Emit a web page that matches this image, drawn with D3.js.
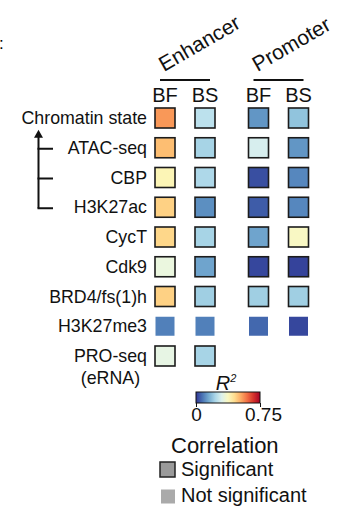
<!DOCTYPE html>
<html><head><meta charset="utf-8">
<script src="https://cdn.jsdelivr.net/npm/d3@7"></script>
<style>
html,body{margin:0;padding:0;background:#fff;}
svg{display:block;font-family:"Liberation Sans",Arial,Helvetica,sans-serif;}
</style></head>
<body><svg id="c" width="345" height="512"></svg>
<script>
// ---- data ----
const rows = ["Chromatin state","ATAC-seq","CBP","H3K27ac","CycT","Cdk9","BRD4/fs(1)h","H3K27me3","PRO-seq"];
const groups = ["Enhancer","Promoter"];
const conditions = ["BF","BS"];
// R^2 values per column (null = not measured)
const enhancerBF = [0.55,0.50,0.39,0.47,0.46,0.33,0.47,0.09,0.32];
const enhancerBS = [0.25,0.22,0.23,0.11,0.22,0.14,0.21,0.09,0.22];
const promoterBF = [0.12,0.29,0.03,0.045,0.14,0.02,0.21,0.06,null];
const promoterBS = [0.19,0.12,0.10,0.10,0.37,0.015,0.21,0.02,null];
// significance per row (H3K27me3 not significant)
const significant = [true,true,true,true,true,true,true,false,true];
const colorTicks = [0,0.75];

const columns = [
  {group:"Enhancer",cond:"BF",vals:enhancerBF},
  {group:"Enhancer",cond:"BS",vals:enhancerBS},
  {group:"Promoter",cond:"BF",vals:promoterBF},
  {group:"Promoter",cond:"BS",vals:promoterBS}
];
const cells = [];
columns.forEach(c=>c.vals.forEach((v,i)=>{ if(v!==null) cells.push({group:c.group,cond:c.cond,row:rows[i],v:v,sig:significant[i]}); }));

const svg = d3.select("#c");
const gx = d3.scalePoint().domain(groups).range([185,278.5]);
const sx = d3.scalePoint().domain(conditions).range([-20,20]);
const y = d3.scalePoint().domain(rows).range([118,356]);
const color = v => d3.interpolateRdYlBu(1 - v/0.75);
const X = d => gx(d.group)+sx(d.cond);

// panel mark fragment
svg.append("text").attr("x",-1).attr("y",49).attr("font-size",17).text(":");

// group headers
groups.forEach(g=>{
  const cx = gx(g);
  svg.append("line").attr("x1",cx-25).attr("x2",cx+25).attr("y1",80).attr("y2",80)
    .attr("stroke","#111").attr("stroke-width",2.2);
  svg.append("text").attr("transform",`translate(${cx-21},${72}) rotate(-30)`)
    .attr("font-size",21).attr("fill","#111").text(g);
  conditions.forEach(c=>{
    svg.append("text").attr("x",cx+sx(c)).attr("y",102).attr("text-anchor","middle")
      .attr("font-size",20).attr("fill","#111").text(c);
  });
});

// row labels
rows.forEach(r=>{
  const t = svg.append("text").attr("x",147).attr("y",y(r)+6).attr("text-anchor","end")
    .attr("font-size",17.8).attr("fill","#111").text(r);
  if(r==="PRO-seq"){
    const w = t.node().getComputedTextLength();
    svg.append("text").attr("x",147-w/2).attr("y",y(r)+28).attr("text-anchor","middle")
      .attr("font-size",17.8).attr("fill","#111").text("(eRNA)");
  }
});

// bracket with arrow
const bx = 38.5;
const yTop = y("ATAC-seq")-16, yBot = y("H3K27ac")+1;
svg.append("line").attr("x1",bx).attr("x2",bx).attr("y1",yTop+4).attr("y2",yBot).attr("stroke","#111").attr("stroke-width",2);
svg.append("path").attr("d",`M${bx-4.5},${yTop+6} L${bx},${yTop-2} L${bx+4.5},${yTop+6} Z`).attr("fill","#111");
["ATAC-seq","CBP","H3K27ac"].forEach(r=>{
  svg.append("line").attr("x1",bx-1).attr("x2",53).attr("y1",y(r)+1).attr("y2",y(r)+1)
    .attr("stroke","#111").attr("stroke-width",2);
});

// cells
svg.selectAll("rect.cell").data(cells).enter().append("rect").attr("class","cell")
  .attr("x",d=>X(d)-(d.sig?10:9.5)).attr("y",d=>y(d.row)-(d.sig?10:9.5))
  .attr("width",d=>d.sig?20:19).attr("height",d=>d.sig?20:19)
  .attr("fill",d=>color(d.v))
  .attr("stroke",d=>d.sig?"#1c1c1c":"none").attr("stroke-width",1.6);

// colorbar
const defs = svg.append("defs");
const grad = defs.append("linearGradient").attr("id","g");
d3.range(0,1.0001,0.1).forEach(t=>grad.append("stop").attr("offset",t).attr("stop-color",color(t*0.75)));
const cb = d3.scaleLinear().domain([0,0.75]).range([196,260]);
svg.append("rect").attr("x",cb(0)).attr("y",392).attr("width",cb(0.75)-cb(0)).attr("height",11)
  .attr("fill","url(#g)").attr("stroke","#111").attr("stroke-width",1);
const ax = svg.append("g").attr("transform","translate(0,403)")
  .call(d3.axisBottom(cb).tickValues(colorTicks).tickSize(4).tickFormat(d=>d===0?"0":d3.format(".2f")(d)));
ax.select(".domain").remove();
ax.selectAll("line").attr("stroke","#111");
ax.selectAll("text").attr("font-size",19).attr("fill","#111").attr("dy","0.75em").attr("y",4)
  .attr("font-family","Liberation Sans, Arial, sans-serif");
ax.selectAll(".tick").filter(d=>d===0.75).select("text").attr("dx",3);
const rt = svg.append("text").attr("x",226).attr("y",390).attr("text-anchor","middle").attr("font-size",20).attr("font-style","italic").attr("fill","#111");
rt.append("tspan").text("R");
rt.append("tspan").attr("font-size",11).attr("dy",-8).text("2");

// legend
svg.append("text").attr("x",171).attr("y",453).attr("font-size",22).attr("fill","#111").text("Correlation");
svg.append("rect").attr("x",160).attr("y",462).attr("width",15).attr("height",15).attr("fill","#9a9a9a").attr("stroke","#222").attr("stroke-width",1.5);
svg.append("text").attr("x",181).attr("y",476).attr("font-size",20).attr("fill","#111").text("Significant");
svg.append("rect").attr("x",161).attr("y",489.5).attr("width",14).attr("height",14).attr("fill","#aaaaaa");
svg.append("text").attr("x",181).attr("y",502).attr("font-size",20).attr("fill","#111").text("Not significant");
</script></body></html>
